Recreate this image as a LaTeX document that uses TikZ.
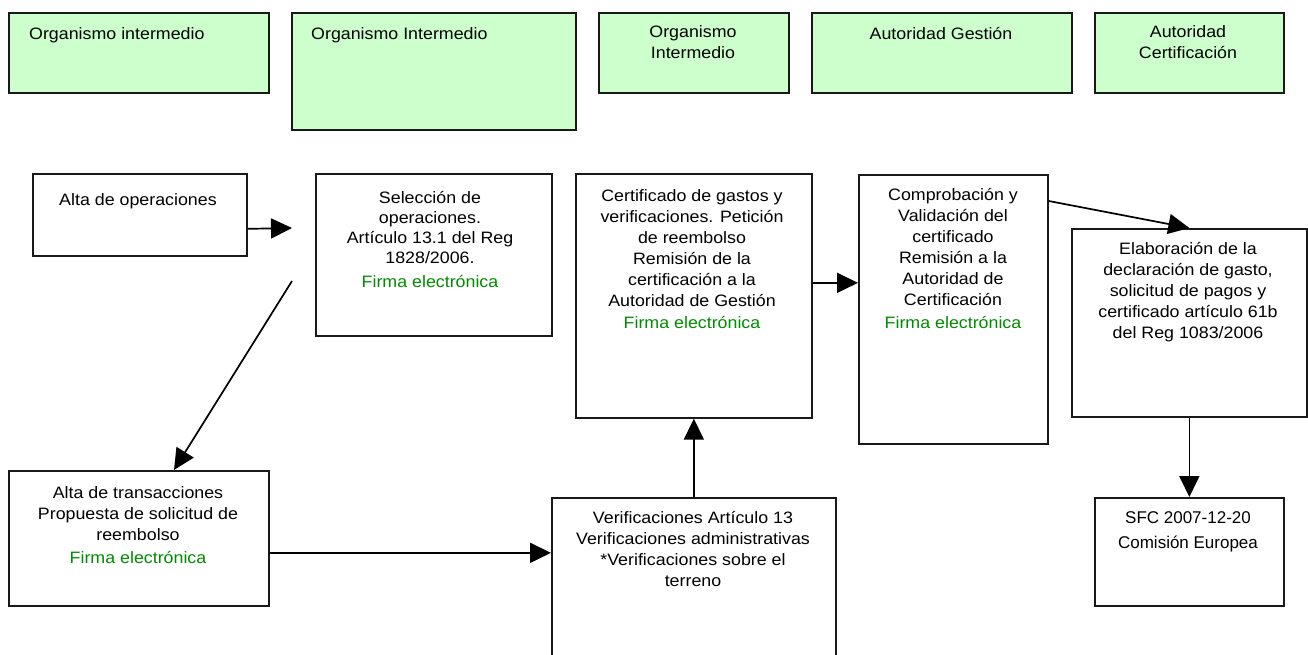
\documentclass[tikz,border=0pt]{standalone}
\usepackage{fontspec}
\setmainfont{Liberation Sans}
\newfontfamily\fgfont[FakeStretch=1.08]{Liberation Sans}
\usetikzlibrary{arrows.meta}
\definecolor{headfill}{RGB}{204,255,204}
\definecolor{firmagreen}{RGB}{0,140,0}
\newcommand{\greentxt}[1]{\textcolor{firmagreen}{#1}}
\tikzset{
  headbox/.style={draw=black!90, line width=1.8pt, fill=headfill, anchor=north west, inner sep=0pt},
  stepbox/.style={draw=black!90, line width=1.7pt, fill=white, anchor=north west, inner sep=0pt},
  lbl/.style={anchor=north, inner sep=0pt, align=center,
    font=\fgfont\fontsize{16.5}{21}\selectfont, execute at begin node=\strut},
  lbll/.style={lbl, anchor=north west, align=left},
  arr/.style={line width=1.7pt, -{Triangle[length=21pt,width=20pt]}},
}
\begin{document}
\begin{tikzpicture}[x=1pt,y=-1pt]
\useasboundingbox (0,0) rectangle (1308,655);
\clip (0,0) rectangle (1308,655);

% header row of responsible bodies
\node[headbox, minimum width=260pt, minimum height=80pt]  (h1) at (8,12) {};
\node[headbox, minimum width=284pt, minimum height=117pt] (h2) at (291,12) {};
\node[headbox, minimum width=190pt, minimum height=80pt]  (h3) at (598,12) {};
\node[headbox, minimum width=260pt, minimum height=80pt]  (h4) at (811,12) {};
\node[headbox, minimum width=189pt, minimum height=80pt]  (h5) at (1094,12) {};
\node[lbll] (h1t) at (29,25)  {Organismo intermedio};
\node[lbll] (h2t) at (311,25) {Organismo Intermedio};
\node[lbl]  (h3t) at (693,25) {Organismo\\Intermedio};
\node[lbl]  (h4t) at (941,25) {Autoridad Gestión};
\node[lbl]  (h5t) at (1188,25) {Autoridad\\Certificación};

% process steps
\node[stepbox, minimum width=214pt, minimum height=82pt]  (ops)   at (32,173) {};
\node[stepbox, minimum width=236pt, minimum height=162pt] (sel)   at (315,173) {};
\node[stepbox, minimum width=236pt, minimum height=244pt] (cert)  at (575,173) {};
\node[stepbox, minimum width=189pt, minimum height=269pt] (comp)  at (858,174) {};
\node[stepbox, minimum width=235pt, minimum height=188pt] (elab)  at (1071,228) {};
\node[stepbox, minimum width=260pt, minimum height=135pt] (trans) at (8,470) {};
\node[stepbox, minimum width=284pt, minimum height=190pt] (ver)   at (551,497) {};
\node[stepbox, minimum width=189pt, minimum height=108pt] (sfc)   at (1094,497) {};

\node[lbl] (opst) at (138,191) {Alta de operaciones};
\node[lbl, font=\fgfont\fontsize{16.5}{20}\selectfont] (selt) at (430,191) {Selección de\\operaciones.\\Artículo 13.1 del Reg\\1828/2006.\\[4pt]\greentxt{Firma electrónica}};
\node[lbl] (certt) at (692,189) {Certificado de gastos y\\verificaciones. Petición\\de reembolso\\Remisión de la\\certificación a la\\Autoridad de Gestión\\[1pt]\greentxt{Firma electrónica}};
\node[lbl] (compt) at (953,188) {Comprobación y\\Validación del\\certificado\\Remisión a la\\Autoridad de\\Certificación\\[2pt]\greentxt{Firma electrónica}};
\node[lbl] (elabt) at (1188,242) {Elaboración de la\\declaración de gasto,\\solicitud de pagos y\\certificado artículo 61b\\del Reg 1083/2006};
\node[lbl] (transt) at (138,486) {Alta de transacciones\\Propuesta de solicitud de\\reembolso\\[2pt]\greentxt{Firma electrónica}};
\node[lbl] (vert) at (693,511) {Verificaciones Artículo 13\\Verificaciones administrativas\\*Verificaciones sobre el\\terreno};
\node[lbl, font=\fontsize{17}{25}\selectfont] (sfct) at (1188,511) {SFC 2007-12-20\\Comisión Europea};

% connectors
\coordinate (opsto) at (292,228);
\coordinate (diagfrom) at (292,281);
\draw[arr] ([yshift=-14pt]ops.east) -- (opsto);
\draw[arr] (diagfrom) -- ([xshift=166pt]trans.north west);
\draw[arr] ([yshift=-14.5pt]trans.east) -- ([yshift=-14.5pt]trans.east -| ver.west);
\draw[arr] (ver.north) -- (cert.south);
\draw[arr] ([yshift=13pt]cert.east) -- ([yshift=13pt]cert.east -| comp.west);
\draw[arr] ([yshift=-27pt]comp.north east) -- (elab.north);
\draw[arr] (elab.south) -- (sfc.north);
\end{tikzpicture}
\end{document}
